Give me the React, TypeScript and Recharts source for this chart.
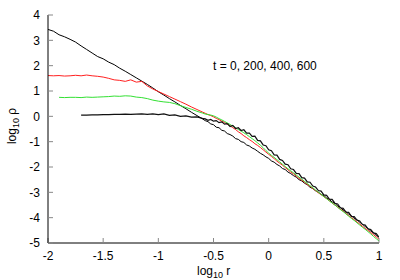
import { LineChart, Line, XAxis, YAxis } from "recharts";

// log10 r grid: coarse on the flat cores, finer where the profiles overlap
const logR = [
    -2, -1.95, -1.9, -1.85, -1.8, -1.75, -1.7, -1.65,
    -1.6, -1.55, -1.5, -1.45, -1.4, -1.35, -1.3, -1.25,
    -1.2, -1.15, -1.1, -1.05, -1, -0.95, -0.9, -0.85,
    -0.8, -0.75, -0.7, -0.65, -0.6,
    -0.575, -0.55, -0.525, -0.5, -0.475, -0.45, -0.425, -0.4,
    -0.375, -0.35, -0.325, -0.3, -0.275, -0.25, -0.225, -0.2,
    -0.175, -0.15, -0.125, -0.1, -0.075, -0.05, -0.025, 0,
    0.025, 0.05, 0.075, 0.1, 0.125, 0.15, 0.175, 0.2,
    0.225, 0.25, 0.275, 0.3, 0.325, 0.35, 0.375, 0.4,
    0.425, 0.45, 0.475, 0.5, 0.525, 0.55, 0.575, 0.6,
    0.625, 0.65, 0.675, 0.7, 0.725, 0.75, 0.775, 0.8,
    0.825, 0.85, 0.875, 0.9, 0.925, 0.95, 0.975, 1,
];

// log10 rho at t = 0
const rhoT0 = [
    3.43, 3.36, 3.22, 3.14, 3.04, 2.93, 2.78, 2.64,
    2.5, 2.36, 2.27, 2.14, 2.04, 1.9, 1.78, 1.65,
    1.52, 1.39, 1.26, 1.12, 0.97, 0.84, 0.7, 0.57,
    0.43, 0.3, 0.16, 0.03, -0.1,
    -0.17, -0.21, -0.3, -0.33, -0.43, -0.45, -0.55, -0.58,
    -0.68, -0.72, -0.78, -0.88, -0.91, -1.0, -1.03, -1.13,
    -1.17, -1.25, -1.3, -1.38, -1.46, -1.52, -1.6, -1.66,
    -1.76, -1.81, -1.9, -1.96, -2.06, -2.1, -2.2, -2.26,
    -2.34, -2.4, -2.5, -2.55, -2.64, -2.7, -2.8, -2.85,
    -2.94, -2.99, -3.08, -3.13, -3.22, -3.28, -3.38, -3.43,
    -3.54, -3.6, -3.7, -3.76, -3.86, -3.92, -4.03, -4.08,
    -4.18, -4.26, -4.35, -4.43, -4.53, -4.6, -4.7, -4.77,
];

// t = 200
const rhoT200 = [
    1.61, 1.6, 1.61, 1.59, 1.6, 1.62, 1.6, 1.63,
    1.6, 1.58, 1.55, 1.5, 1.44, 1.42, 1.38, 1.44,
    1.35, 1.38, 1.2, 1.08, 0.98, 0.88, 0.78, 0.68,
    0.58, 0.48, 0.37, 0.27, 0.17,
    0.12, 0.07, 0.03, -0.02, -0.08, -0.13, -0.19, -0.24,
    -0.31, -0.37, -0.45, -0.52, -0.61, -0.68, -0.77, -0.84,
    -0.92, -0.99, -1.08, -1.15, -1.23, -1.32, -1.41, -1.5,
    -1.58, -1.67, -1.77, -1.85, -1.93, -2.02, -2.11, -2.2,
    -2.27, -2.36, -2.45, -2.52, -2.6, -2.69, -2.76, -2.85,
    -2.93, -3.02, -3.09, -3.17, -3.25, -3.33, -3.42, -3.5,
    -3.58, -3.67, -3.74, -3.83, -3.92, -4.0, -4.08, -4.17,
    -4.25, -4.34, -4.42, -4.5, -4.59, -4.67, -4.76, -4.85,
];

// t = 400
const rhoT400 = [
    null, null, 0.75, 0.74, 0.75, 0.75, 0.74, 0.76,
    0.75, 0.76, 0.77, 0.78, 0.8, 0.79, 0.81, 0.8,
    0.76, 0.74, 0.7, 0.64, 0.6, 0.57, 0.55, 0.5,
    0.42, 0.35, 0.28, 0.2, 0.13,
    0.09, 0.07, 0.05, 0.02, -0.03, -0.09, -0.14, -0.2,
    -0.26, -0.32, -0.39, -0.45, -0.52, -0.58, -0.65, -0.72,
    -0.8, -0.88, -0.96, -1.05, -1.14, -1.24, -1.35, -1.45,
    -1.54, -1.62, -1.71, -1.8, -1.89, -1.98, -2.07, -2.15,
    -2.23, -2.32, -2.4, -2.48, -2.57, -2.65, -2.74, -2.82,
    -2.91, -3.0, -3.08, -3.17, -3.25, -3.34, -3.42, -3.5,
    -3.59, -3.68, -3.76, -3.85, -3.94, -4.03, -4.11, -4.2,
    -4.29, -4.38, -4.46, -4.55, -4.64, -4.74, -4.83, -4.92,
];

// t = 600
const rhoT600 = [
    null, null, null, null, null, null, 0.05, 0.05,
    0.06, 0.06, 0.07, 0.07, 0.08, 0.08, 0.09, 0.08,
    0.09, 0.1, 0.08, 0.1, 0.07, 0.1, 0.04, 0.06,
    0.0, 0.02, -0.03, -0.02, -0.08,
    -0.1, -0.16, -0.12, -0.19, -0.17, -0.25, -0.22, -0.31,
    -0.29, -0.4, -0.36, -0.48, -0.45, -0.56, -0.53, -0.66,
    -0.66, -0.79, -0.78, -0.95, -0.97, -1.13, -1.16, -1.32,
    -1.36, -1.52, -1.53, -1.7, -1.74, -1.89, -1.91, -2.07,
    -2.1, -2.25, -2.26, -2.42, -2.44, -2.59, -2.6, -2.75,
    -2.79, -2.93, -2.95, -3.1, -3.12, -3.27, -3.28, -3.43,
    -3.46, -3.61, -3.63, -3.78, -3.79, -3.95, -3.96, -4.1,
    -4.13, -4.27, -4.29, -4.44, -4.47, -4.6, -4.63, -4.77,
];

const xTicks = [-2, -1.5, -1, -0.5, 0, 0.5, 1];
const yTicks = [-5, -4, -3, -2, -1, 0, 1, 2, 3, 4];

const data = logR.map((r, i) => ({
    r,
    t0: rhoT0[i],
    t200: rhoT200[i],
    t400: rhoT400[i],
    t600: rhoT600[i],
}));

const font = "'Liberation Sans', Arial, Helvetica, sans-serif";
const tickStyle = { fill: "#000", fontSize: 12 };

const App = () => {
    return (
        <div style={{ position: "absolute", left: 0, top: 0, width: 400, height: 280, background: "#fff", fontFamily: font }}>
            <LineChart width={400} height={280} data={data} margin={{ top: 15, right: 21, bottom: 0, left: 0 }}>

                {/* bottom / top axes, ticks pointing inward */}
                <XAxis xAxisId="b" dataKey="r" type="number" domain={[-2, 1]} ticks={xTicks} interval={0}
                    allowDataOverflow height={37} tickSize={-5} tickMargin={13}
                    axisLine={{ stroke: "#000" }} tickLine={{ stroke: "#888" }} tick={tickStyle} />
                <XAxis xAxisId="t" orientation="top" dataKey="r" type="number" domain={[-2, 1]} ticks={xTicks} interval={0}
                    allowDataOverflow height={0} tickSize={-5} tickFormatter={() => ""}
                    axisLine={{ stroke: "#000" }} tickLine={{ stroke: "#888" }} />

                {/* left / right axes */}
                <YAxis yAxisId="l" type="number" domain={[-5, 4]} ticks={yTicks} interval={0}
                    allowDataOverflow width={48} tickSize={-5} tickMargin={13}
                    axisLine={{ stroke: "#000" }} tickLine={{ stroke: "#888" }} tick={tickStyle} />
                <YAxis yAxisId="r" orientation="right" type="number" domain={[-5, 4]} ticks={yTicks} interval={0}
                    allowDataOverflow width={0} tickSize={-5} tickFormatter={() => ""}
                    axisLine={{ stroke: "#000" }} tickLine={{ stroke: "#888" }} />

                <Line xAxisId="b" yAxisId="l" dataKey="t0" stroke="#000" strokeWidth={1} dot={false} isAnimationActive={false} />
                <Line xAxisId="b" yAxisId="l" dataKey="t200" stroke="#ff2020" strokeWidth={1} dot={false} isAnimationActive={false} />
                <Line xAxisId="b" yAxisId="l" dataKey="t400" stroke="#33e033" strokeWidth={1} dot={false} isAnimationActive={false} />
                <Line xAxisId="b" yAxisId="l" dataKey="t600" stroke="#111" strokeWidth={1.2} dot={false} isAnimationActive={false} />

                <text x={213} y={70} fontSize={12} fill="#000" fontFamily={font}>t = 0, 200, 400, 600</text>
                <text x={197} y={275} fontSize={12} fill="#000" fontFamily={font}>
                    log<tspan fontSize={9} dy={3}>10</tspan><tspan dy={-3}> r</tspan>
                </text>
                <text x={0} y={0} fontSize={12} fill="#000" fontFamily={font} textAnchor="middle"
                    transform="translate(16,126) rotate(-90)">
                    log<tspan fontSize={9} dy={3}>10</tspan><tspan dy={-3}> ρ</tspan>
                </text>
            </LineChart>
        </div>
    );
};

export default App;
